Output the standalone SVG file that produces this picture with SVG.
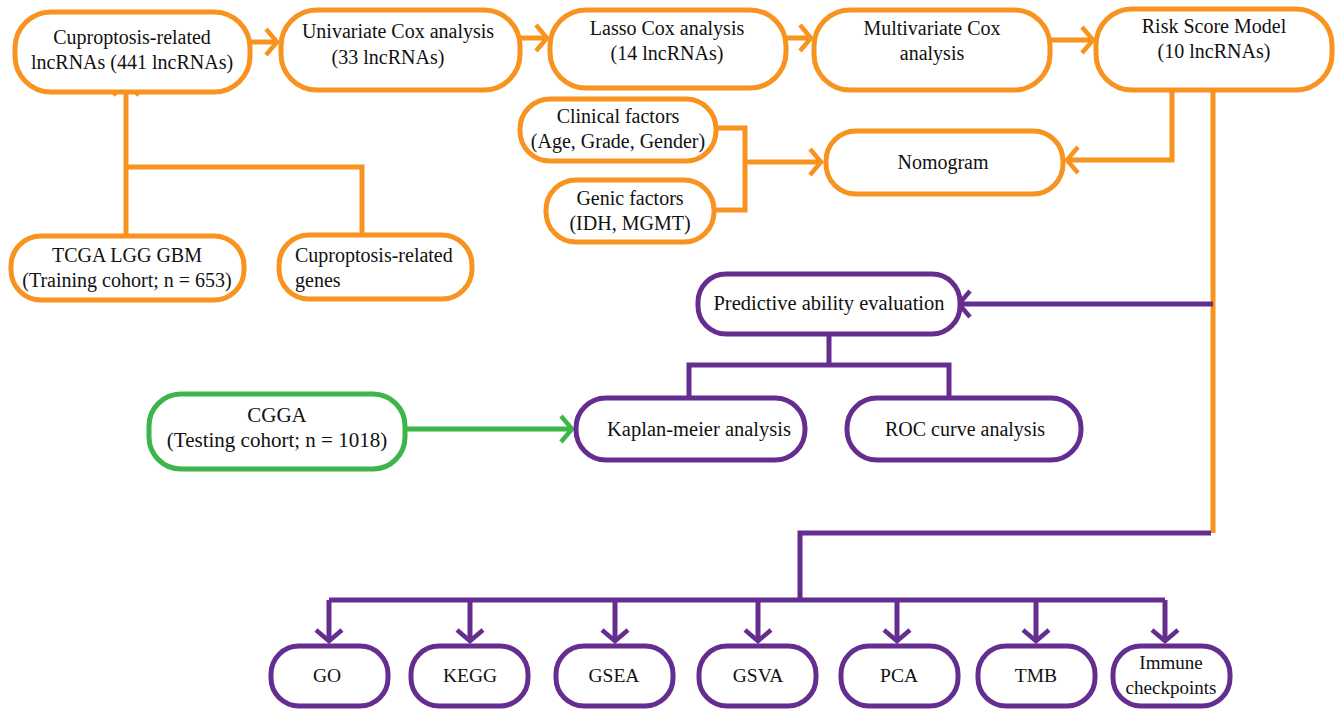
<svg xmlns="http://www.w3.org/2000/svg" width="1338" height="710" viewBox="0 0 1338 710">
<style>
.o{fill:#fff;stroke:#F7931E;stroke-width:5}
.p{fill:#fff;stroke:#662D91;stroke-width:5}
.g{fill:#fff;stroke:#3DB54A;stroke-width:5}
.lo{fill:none;stroke:#F7931E;stroke-width:5}
.lp{fill:none;stroke:#662D91;stroke-width:5}
.lg{fill:none;stroke:#3DB54A;stroke-width:5}
</style>
<defs>
<marker id="ao" viewBox="0 0 16 30" refX="13" refY="15" markerWidth="16" markerHeight="30" markerUnits="userSpaceOnUse" orient="auto"><path d="M2,2 L13,15 L2,28" fill="none" stroke="#F7931E" stroke-width="4.5"/></marker>
<marker id="ap" viewBox="0 0 16 30" refX="13" refY="15" markerWidth="16" markerHeight="30" markerUnits="userSpaceOnUse" orient="auto"><path d="M2,2 L13,15 L2,28" fill="none" stroke="#662D91" stroke-width="4.5"/></marker>
<marker id="ag" viewBox="0 0 16 30" refX="13" refY="15" markerWidth="16" markerHeight="30" markerUnits="userSpaceOnUse" orient="auto"><path d="M2,2 L13,15 L2,28" fill="none" stroke="#3DB54A" stroke-width="4.5"/></marker>
</defs>
<rect width="1338" height="710" fill="#fff"/>
<g id="connectors">
<path class="lo" d="M250,42 H277" marker-end="url(#ao)"/>
<path class="lo" d="M520,38 H547" marker-end="url(#ao)"/>
<path class="lo" d="M787,38 H811" marker-end="url(#ao)"/>
<path class="lo" d="M1051,40 H1093" marker-end="url(#ao)"/>
<path class="lo" d="M126,235 V84" marker-end="url(#ao)"/>
<path class="lo" d="M126,167 H362 V234"/>
<path class="lo" d="M716,128 H745 V210 H714"/>
<path class="lo" d="M745,162 H821" marker-end="url(#ao)"/>
<path class="lo" d="M1172,90 V160 H1067" marker-end="url(#ao)"/>
<path class="lo" d="M1213,90 V533"/>
<path class="lp" d="M1213,304 H959" marker-end="url(#ap)"/>
<path class="lp" d="M829,334 V365 M689,398 V365 H949 V398"/>
<path class="lg" d="M405,429 H572" marker-end="url(#ag)"/>
<path class="lp" d="M1211,533 H800 V600 M329,600 H1165"/>
<path class="lp" d="M329,600 V641" marker-end="url(#ap)"/>
<path class="lp" d="M470,600 V641" marker-end="url(#ap)"/>
<path class="lp" d="M615,600 V641" marker-end="url(#ap)"/>
<path class="lp" d="M758,600 V641" marker-end="url(#ap)"/>
<path class="lp" d="M897,600 V641" marker-end="url(#ap)"/>
<path class="lp" d="M1036,600 V641" marker-end="url(#ap)"/>
<path class="lp" d="M1165,600 V641" marker-end="url(#ap)"/>
</g>
<g id="n-lnc"><rect class="o" x="15" y="12" width="235" height="80" rx="36"/><text x="132" y="44" font-family="Liberation Serif" font-size="20" text-anchor="middle" fill="#111">Cuproptosis-related</text><text x="132" y="69" font-family="Liberation Serif" font-size="20" text-anchor="middle" fill="#111">lncRNAs (441 lncRNAs)</text></g>
<g id="n-uni"><rect class="o" x="281" y="10" width="239" height="80" rx="36"/><text x="398" y="38" font-family="Liberation Serif" font-size="20" text-anchor="middle" fill="#111">Univariate Cox analysis</text><text x="388" y="64" font-family="Liberation Serif" font-size="20" text-anchor="middle" fill="#111">(33 lncRNAs)</text></g>
<g id="n-lasso"><rect class="o" x="550" y="10" width="236" height="78" rx="36"/><text x="667" y="35" font-family="Liberation Serif" font-size="20" text-anchor="middle" fill="#111">Lasso Cox analysis</text><text x="667" y="60" font-family="Liberation Serif" font-size="20" text-anchor="middle" fill="#111">(14 lncRNAs)</text></g>
<g id="n-multi"><rect class="o" x="814" y="10" width="236" height="80" rx="36"/><text x="932" y="35" font-family="Liberation Serif" font-size="20" text-anchor="middle" fill="#111">Multivariate Cox</text><text x="932" y="60" font-family="Liberation Serif" font-size="20" text-anchor="middle" fill="#111">analysis</text></g>
<g id="n-risk"><rect class="o" x="1096" y="9" width="236" height="81" rx="36"/><text x="1214" y="33" font-family="Liberation Serif" font-size="20" text-anchor="middle" fill="#111">Risk Score Model</text><text x="1214" y="58" font-family="Liberation Serif" font-size="20" text-anchor="middle" fill="#111">(10 lncRNAs)</text></g>
<g id="n-tcga"><rect class="o" x="11" y="236" width="233" height="64" rx="30"/><text x="127" y="262" font-family="Liberation Serif" font-size="20" text-anchor="middle" fill="#111">TCGA LGG GBM</text><text x="127" y="287" font-family="Liberation Serif" font-size="20" text-anchor="middle" fill="#111">(Training cohort; n = 653)</text></g>
<g id="n-genes"><rect class="o" x="279" y="235" width="193" height="64" rx="30"/><text x="295" y="262" font-family="Liberation Serif" font-size="20" fill="#111">Cuproptosis-related</text><text x="295" y="287" font-family="Liberation Serif" font-size="20" fill="#111">genes</text></g>
<g id="n-clin"><rect class="o" x="520" y="99" width="196" height="62" rx="30"/><text x="618" y="123" font-family="Liberation Serif" font-size="20" text-anchor="middle" fill="#111">Clinical factors</text><text x="618" y="148" font-family="Liberation Serif" font-size="20" text-anchor="middle" fill="#111">(Age, Grade, Gender)</text></g>
<g id="n-genic"><rect class="o" x="546" y="180" width="168" height="62" rx="30"/><text x="630" y="205" font-family="Liberation Serif" font-size="20" text-anchor="middle" fill="#111">Genic factors</text><text x="630" y="230" font-family="Liberation Serif" font-size="20" text-anchor="middle" fill="#111">(IDH, MGMT)</text></g>
<g id="n-nomo"><rect class="o" x="826" y="131" width="237" height="63" rx="30"/><text x="943" y="169" font-family="Liberation Serif" font-size="20" text-anchor="middle" fill="#111">Nomogram</text></g>
<g id="n-pred"><rect class="p" x="698" y="274" width="262" height="60" rx="28"/><text x="829" y="310" font-family="Liberation Serif" font-size="20.5" text-anchor="middle" fill="#111">Predictive ability evaluation</text></g>
<g id="n-km"><rect class="p" x="576" y="398" width="229" height="62" rx="30"/><text x="699" y="436" font-family="Liberation Serif" font-size="20.5" text-anchor="middle" fill="#111">Kaplan-meier analysis</text></g>
<g id="n-roc"><rect class="p" x="847" y="398" width="234" height="62" rx="30"/><text x="965" y="436" font-family="Liberation Serif" font-size="20" text-anchor="middle" fill="#111">ROC curve analysis</text></g>
<g id="n-cgga"><rect class="g" x="149" y="394" width="256" height="75" rx="32"/><text x="277" y="422" font-family="Liberation Serif" font-size="21" text-anchor="middle" fill="#111">CGGA</text><text x="277" y="447" font-family="Liberation Serif" font-size="21" text-anchor="middle" fill="#111">(Testing cohort; n = 1018)</text></g>
<g id="n-go"><rect class="p" x="271" y="646" width="117" height="60" rx="28"/><text x="327" y="682" font-family="Liberation Serif" font-size="19.5" text-anchor="middle" fill="#111">GO</text></g>
<g id="n-kegg"><rect class="p" x="411" y="646" width="117" height="60" rx="28"/><text x="470" y="682" font-family="Liberation Serif" font-size="19.5" text-anchor="middle" fill="#111">KEGG</text></g>
<g id="n-gsea"><rect class="p" x="556" y="646" width="117" height="60" rx="28"/><text x="614" y="682" font-family="Liberation Serif" font-size="19.5" text-anchor="middle" fill="#111">GSEA</text></g>
<g id="n-gsva"><rect class="p" x="699" y="646" width="117" height="60" rx="28"/><text x="758" y="682" font-family="Liberation Serif" font-size="19.5" text-anchor="middle" fill="#111">GSVA</text></g>
<g id="n-pca"><rect class="p" x="841" y="646" width="117" height="60" rx="28"/><text x="899" y="682" font-family="Liberation Serif" font-size="19.5" text-anchor="middle" fill="#111">PCA</text></g>
<g id="n-tmb"><rect class="p" x="978" y="646" width="117" height="60" rx="28"/><text x="1036" y="682" font-family="Liberation Serif" font-size="19.5" text-anchor="middle" fill="#111">TMB</text></g>
<g id="n-imm"><rect class="p" x="1113" y="646" width="117" height="60" rx="28"/><text x="1171" y="669" font-family="Liberation Serif" font-size="19" text-anchor="middle" fill="#111">Immune</text><text x="1171" y="694" font-family="Liberation Serif" font-size="19" text-anchor="middle" fill="#111">checkpoints</text></g>
</svg>
